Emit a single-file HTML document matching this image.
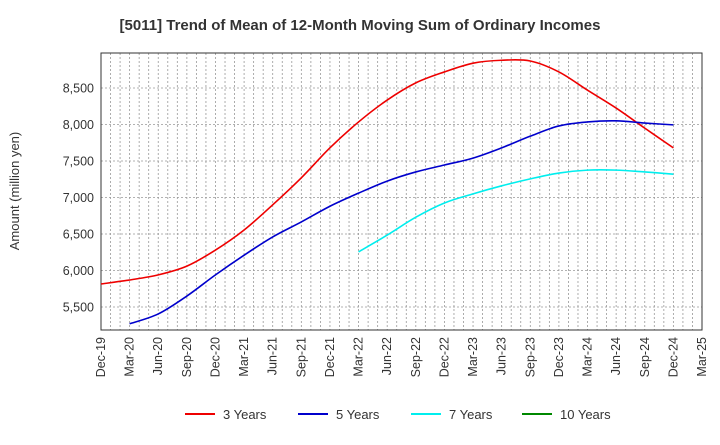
<!DOCTYPE html>
<html><head><meta charset="utf-8"><style>
body{margin:0;background:#fff;font-family:"Liberation Sans",sans-serif;}
</style></head><body>
<svg id="chart" width="720" height="440" xmlns="http://www.w3.org/2000/svg" font-family="Liberation Sans, sans-serif">
<text x="360" y="30" text-anchor="middle" font-size="15" font-weight="bold" fill="#333">[5011]  Trend of Mean of 12-Month Moving Sum of Ordinary Incomes</text>
<text transform="translate(19,191) rotate(-90)" text-anchor="middle" font-size="13" fill="#333">Amount (million yen)</text>
<g id="grid"></g><g id="axes"></g><g id="series"></g><g id="legend"></g>
</svg>
<script>
const categories=["Dec-19","Mar-20","Jun-20","Sep-20","Dec-20","Mar-21","Jun-21","Sep-21","Dec-21","Mar-22","Jun-22","Sep-22","Dec-22","Mar-23","Jun-23","Sep-23","Dec-23","Mar-24","Jun-24","Sep-24","Dec-24","Mar-25"];
const yTicks=[5500,6000,6500,7000,7500,8000,8500];
const y3=[5815,5870,5940,6060,6280,6555,6900,7270,7680,8035,8335,8570,8720,8840,8880,8870,8720,8470,8225,7950,7680];
const y5=[null,5270,5405,5650,5940,6210,6460,6665,6880,7060,7225,7350,7445,7540,7680,7840,7980,8035,8050,8020,7995];
const y7=[null,null,null,null,null,null,null,null,null,6255,6485,6730,6925,7050,7160,7255,7335,7375,7375,7350,7320];
const y10=[];
const seriesNames=["3 Years","5 Years","7 Years","10 Years"];
const colors=["#e00","#00c","#0ee","#080"];
const L=101,R=702,T=53,B=330;
const xs=i=>L+i*(R-L)/(categories.length-1);
const ys=v=>124.5-(v-8000)*0.073;
const NS="http://www.w3.org/2000/svg";
function mk(tag,parent,attrs){const e=document.createElementNS(NS,tag);for(const k in attrs)e.setAttribute(k,attrs[k]);parent.appendChild(e);return e;}
const grid=document.getElementById('grid'),axes=document.getElementById('axes'),ser=document.getElementById('series'),leg=document.getElementById('legend');
for(let m=1;m<(categories.length-1)*3;m++){const x=L+m*(R-L)/((categories.length-1)*3);
const g=mk('line',grid,{x1:x,x2:x,y1:T,y2:B,stroke:'#999','stroke-width':0.8,'stroke-dasharray':'2,2'});

}
yTicks.forEach(v=>{const y=ys(v);
const g=mk('line',grid,{x1:L,x2:R,y1:y,y2:y,stroke:'#999','stroke-width':0.8,'stroke-dasharray':'2,2'});


const t=mk('text',axes,{x:L-7,y:y+4.5,'text-anchor':'end','font-size':12.5,fill:'#333'});t.textContent=v.toLocaleString('en-US');

});
categories.forEach((c,i)=>{const x=xs(i);
const t=mk('text',axes,{transform:`translate(${x+4},${B+7}) rotate(-90)`,'text-anchor':'end','font-size':12.5,fill:'#333'});t.textContent=c;

});
const fr=mk('rect',axes,{x:L,y:T,width:R-L,height:B-T,fill:'none',stroke:'#333','stroke-width':1});


[y3,y5,y7,y10].forEach((arr,si)=>{const pts=[];arr.forEach((v,i)=>{if(v!=null)pts.push([xs(i),ys(v)]);});
if(pts.length<2)return;
let d='M'+pts[0][0]+','+pts[0][1];
for(let i=0;i<pts.length-1;i++){const p0=pts[i-1]||pts[i],p1=pts[i],p2=pts[i+1],p3=pts[i+2]||p2;
d+=` C${p1[0]+(p2[0]-p0[0])/6},${p1[1]+(p2[1]-p0[1])/6} ${p2[0]-(p3[0]-p1[0])/6},${p2[1]-(p3[1]-p1[1])/6} ${p2[0]},${p2[1]}`;}
const p=mk('path',ser,{d:d,fill:'none',stroke:colors[si],'stroke-width':1.6});

});
const lx=[185,298,411,522];
seriesNames.forEach((n,i)=>{
const l=mk('line',leg,{x1:lx[i],x2:lx[i]+30,y1:414,y2:414,stroke:colors[i],'stroke-width':2});


const t=mk('text',leg,{x:lx[i]+38,y:419,'font-size':13,fill:'#333'});t.textContent=n;

});
</script>
</body></html>
